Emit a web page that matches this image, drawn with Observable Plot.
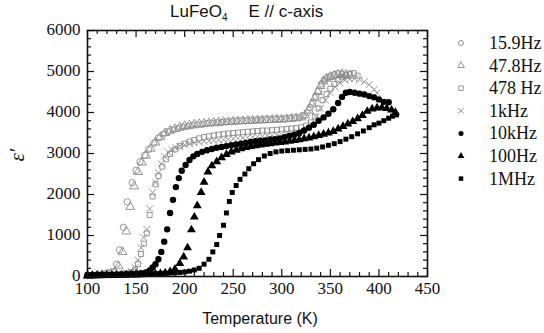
<!DOCTYPE html>
<html><head><meta charset="utf-8">
<script src="https://cdn.jsdelivr.net/npm/d3@7"></script>
<script src="https://cdn.jsdelivr.net/npm/@observablehq/plot@0.6"></script>
<style>
body{margin:0;background:#fff;}
#wrap{position:relative;width:544px;height:333px;overflow:hidden;background:#fff;}
.ov{position:absolute;white-space:nowrap;color:#111;}
</style></head><body><div id="wrap"></div>
<script>
// ---- data ----
const seriesNames = ["15.9Hz", "47.8Hz", "478 Hz", "1kHz", "10kHz", "100Hz", "1MHz"];

const T_15 = [100,104,108,112,116,119,122,126,130,133,137,141,146,150,154,159,163,168,173,178,183,188,193,198,203,208,213,218,223,228,233,238,243,248,253,258,263,268,273,278,283,288,293,298,303,308,313,318,322,326,329,332,335,338,341,344,347,350,354,358,362,366];
const E_15 = [20,25,30,40,55,70,90,110,300,650,1200,1820,2290,2590,2800,2960,3100,3250,3380,3470,3530,3580,3610,3640,3660,3680,3700,3710,3730,3740,3750,3760,3770,3780,3790,3800,3800,3810,3820,3820,3830,3830,3840,3840,3850,3860,3870,3880,3920,4000,4120,4250,4400,4530,4700,4800,4850,4880,4920,4950,4930,4900];

const T_47 = [100,105,110,115,120,124,128,132,136,140,144,148,152,156,160,165,170,175,180,185,190,195,200,205,210,215,220,225,230,235,240,245,250,255,260,265,270,275,280,285,290,295,300,305,310,315,320,324,328,331,334,337,340,343,346,350,354,358,362,366,370];
const E_47 = [20,25,30,40,55,75,110,250,600,1100,1700,2200,2550,2780,2950,3120,3270,3400,3500,3560,3600,3640,3670,3690,3710,3720,3730,3740,3750,3760,3770,3770,3780,3790,3790,3800,3800,3810,3810,3820,3820,3830,3830,3840,3850,3860,3880,3930,4050,4200,4350,4500,4650,4760,4830,4870,4900,4920,4940,4920,4900];

const T_478 = [100,105,110,115,120,125,130,135,140,145,149,152,155,158,161,164,167,170,173,177,181,185,190,195,200,205,210,215,220,225,230,235,240,245,250,255,260,265,270,275,280,285,290,295,300,305,310,315,320,325,330,334,338,342,346,350,354,358,362,366,370,374,378];
const E_478 = [15,20,25,30,35,40,50,60,80,110,170,300,550,800,1050,1500,1950,2250,2450,2680,2860,2990,3100,3180,3240,3290,3330,3370,3400,3420,3440,3460,3480,3490,3500,3510,3520,3530,3540,3550,3560,3560,3570,3580,3590,3600,3610,3620,3640,3680,3760,3900,4100,4300,4450,4580,4700,4800,4870,4920,4950,4960,4900];

const T_1k = [100,105,110,115,120,125,130,135,140,145,149,152,155,158,161,164,167,170,173,176,179,183,187,191,195,200,205,210,215,220,225,230,235,240,245,250,255,260,265,270,275,280,285,290,295,300,305,310,315,320,325,330,335,340,345,350,355,360,365,370,375,380,385,390,395,398];
const E_1k = [15,20,25,30,35,40,50,60,80,120,220,400,700,950,1150,1650,2050,2300,2530,2750,2930,3030,3090,3140,3180,3210,3240,3260,3280,3300,3310,3320,3330,3340,3350,3360,3370,3380,3390,3400,3410,3420,3430,3440,3450,3460,3480,3500,3520,3560,3620,3720,3900,4100,4300,4480,4620,4720,4790,4820,4830,4800,4750,4680,4560,4480];

const T_10k = [100,105,110,115,120,125,130,135,140,145,150,155,160,164,167,170,173,176,179,182,185,188,191,194,197,201,205,209,213,218,223,228,233,238,243,248,253,258,263,268,273,278,283,288,293,298,303,308,313,318,323,328,333,338,343,348,353,358,362,366,370,375,380,385,390,395,400,405,410];
const E_10k = [30,30,35,35,40,40,45,50,55,60,70,80,100,150,220,300,420,600,850,1150,1550,1870,2180,2400,2580,2720,2840,2930,2990,3040,3080,3110,3140,3160,3180,3200,3220,3240,3260,3280,3300,3310,3320,3340,3350,3370,3400,3430,3460,3500,3560,3630,3700,3800,3880,3970,4080,4230,4380,4480,4500,4480,4460,4440,4400,4370,4320,4260,4250];

const T_100 = [100,105,110,115,120,125,130,135,140,145,150,155,160,165,170,175,180,185,190,195,199,203,207,210,213,217,220,224,228,233,238,243,248,253,258,263,268,273,278,283,288,293,298,303,308,313,318,323,328,333,338,343,348,353,358,363,368,373,378,383,388,393,398,403,408,413,417];
const E_100 = [20,20,25,25,30,30,30,35,35,40,40,45,50,55,60,70,90,120,180,320,480,700,1140,1450,1730,2050,2300,2550,2700,2800,2900,2980,3040,3080,3120,3150,3170,3190,3210,3230,3240,3260,3270,3280,3300,3320,3340,3360,3380,3410,3440,3470,3500,3540,3600,3660,3720,3780,3850,3930,4030,4090,4110,4120,4100,4060,4000];

const T_1M = [100,105,110,115,120,125,130,135,140,145,150,155,160,165,170,175,180,185,190,195,200,205,210,215,220,225,229,233,236,240,243,246,249,253,257,262,266,271,276,282,288,294,300,306,312,318,324,330,336,342,348,354,360,366,372,378,384,390,395,400,405,410,414,418];
const E_1M = [40,40,40,45,45,45,50,50,50,55,55,60,60,65,70,75,80,85,90,100,110,130,160,200,300,420,600,780,1000,1250,1550,1830,2050,2220,2370,2500,2630,2750,2850,2940,3000,3040,3060,3070,3080,3090,3100,3110,3130,3160,3200,3240,3290,3350,3410,3480,3550,3630,3700,3740,3800,3860,3910,3940];

const xTicks = [100,150,200,250,300,350,400,450];
const yTicks = [0,1000,2000,3000,4000,5000,6000];

// series table built from arrays
const seriesData = [
  {name: seriesNames[0], T: T_15,  E: E_15,  symbol: "circle",   filled: false},
  {name: seriesNames[1], T: T_47,  E: E_47,  symbol: "triangle", filled: false},
  {name: seriesNames[2], T: T_478, E: E_478, symbol: "square",   filled: false},
  {name: seriesNames[3], T: T_1k,  E: E_1k,  symbol: "times",    filled: false},
  {name: seriesNames[4], T: T_10k, E: E_10k, symbol: "circle",   filled: true},
  {name: seriesNames[5], T: T_100, E: E_100, symbol: "triangle", filled: true},
  {name: seriesNames[6], T: T_1M,  E: E_1M,  symbol: "square",   filled: true}
];

// ---- layout ----
const W = 544, H = 333;
const mL = 87, mR = 117, mT = 30, mB = 57;
const pw = W - mL - mR, ph = H - mT - mB;
const gray = "#8a8a8a";
const majLen = 7, minLen = 4;
const rSize = {circle: 3.2, triangle: 3.3, square: 2.8, times: 3.2};

const xMinor = d3.range(100, 451, 10).filter(v => v % 50 !== 0);
const yMinor = d3.range(0, 6001, 200).filter(v => v % 1000 !== 0);

const dotMarks = seriesData.map(s => {
  const rows = s.T.map((t, i) => ({T: t, E: s.E[i]}));
  const opts = {x: "T", y: "E", symbol: () => s.symbol, r: rSize[s.symbol]};
  if (s.filled) Object.assign(opts, {fill: "#000", stroke: "none"});
  else Object.assign(opts, {fill: "none", stroke: gray, strokeWidth: 0.9});
  return Plot.dot(rows, opts);
});

const plot = Plot.plot({
  width: W, height: H,
  marginLeft: mL, marginRight: mR, marginTop: mT, marginBottom: mB,
  style: {fontFamily: "'Liberation Serif', 'Times New Roman', serif", fontSize: "17px", background: "white", color: "#111"},
  x: {domain: [100, 450], label: null},
  y: {domain: [0, 6000], label: null},
  symbol: {type: "identity"},
  marks: [
    ...dotMarks,
    // inward ticks, bottom/top
    Plot.ruleX(xTicks, {x: d => d, insetTop: ph - majLen, stroke: "#111", strokeWidth: 1.2}),
    Plot.ruleX(xMinor, {x: d => d, insetTop: ph - minLen, stroke: "#111", strokeWidth: 1.2}),
    Plot.ruleX(xTicks, {x: d => d, insetBottom: ph - majLen, stroke: "#111", strokeWidth: 1.2}),
    Plot.ruleX(xMinor, {x: d => d, insetBottom: ph - minLen, stroke: "#111", strokeWidth: 1.2}),
    // inward ticks, left/right
    Plot.ruleY(yTicks, {y: d => d, insetRight: pw - majLen, stroke: "#111", strokeWidth: 1.2}),
    Plot.ruleY(yMinor, {y: d => d, insetRight: pw - minLen, stroke: "#111", strokeWidth: 1.2}),
    Plot.ruleY(yTicks, {y: d => d, insetLeft: pw - majLen, stroke: "#111", strokeWidth: 1.2}),
    Plot.ruleY(yMinor, {y: d => d, insetLeft: pw - minLen, stroke: "#111", strokeWidth: 1.2}),
    Plot.frame({stroke: "#111", strokeWidth: 1.6}),
    Plot.axisX({ticks: xTicks, tickSize: 0, tickPadding: 5, tickFormat: d => String(d), label: null, fontSize: 17}),
    Plot.axisY({ticks: yTicks, tickSize: 0, tickPadding: 7, tickFormat: d => String(d), label: null, fontSize: 17, dy: -1})
  ]
});

const wrap = document.getElementById("wrap");
wrap.appendChild(plot);

// title
const title = document.createElement("div");
title.className = "ov";
title.style.cssText = "left:170px;top:2px;font-family:'Liberation Sans',Arial,sans-serif;font-size:17px;";
title.innerHTML = "LuFeO<sub style='font-size:10px;'>4</sub><span style='display:inline-block;width:21px'></span>E // c-axis";
wrap.appendChild(title);

// x label
const xl = document.createElement("div");
xl.className = "ov";
xl.style.cssText = "left:260px;top:310px;transform:translateX(-50%);font-family:'Liberation Sans',Arial,sans-serif;font-size:16px;";
xl.textContent = "Temperature (K)";
wrap.appendChild(xl);

// y label
const yl = document.createElement("div");
yl.className = "ov";
yl.style.cssText = "left:17px;top:155px;transform:translate(-50%,-50%) rotate(-90deg);font-family:'Liberation Serif','Times New Roman',serif;font-style:italic;font-size:21px;";
yl.textContent = "\u03B5\u2032";
wrap.appendChild(yl);

// legend
const symMap = {circle: d3.symbolCircle, triangle: d3.symbolTriangle, square: d3.symbolSquare, times: d3.symbolTimes};
const leg = d3.select(wrap).append("svg")
  .attr("width", 120).attr("height", 190)
  .style("position", "absolute").style("left", "440px").style("top", "30px")
  .style("overflow", "visible");
seriesData.forEach((s, i) => {
  const g = leg.append("g").attr("transform", `translate(0,${13 + i * 22.6})`);
  g.append("path")
    .attr("d", d3.symbol(symMap[s.symbol], s.symbol === "times" ? 22 : 20)())
    .attr("transform", "translate(21,0)")
    .attr("fill", s.filled ? "#000" : "none")
    .attr("stroke", s.filled ? "none" : gray)
    .attr("stroke-width", 0.9);
  g.append("text").attr("x", 49).attr("y", 6)
    .attr("font-family", "'Liberation Serif','Times New Roman',serif")
    .attr("font-size", 18).attr("fill", "#111")
    .text(s.name);
});
</script></body></html>
